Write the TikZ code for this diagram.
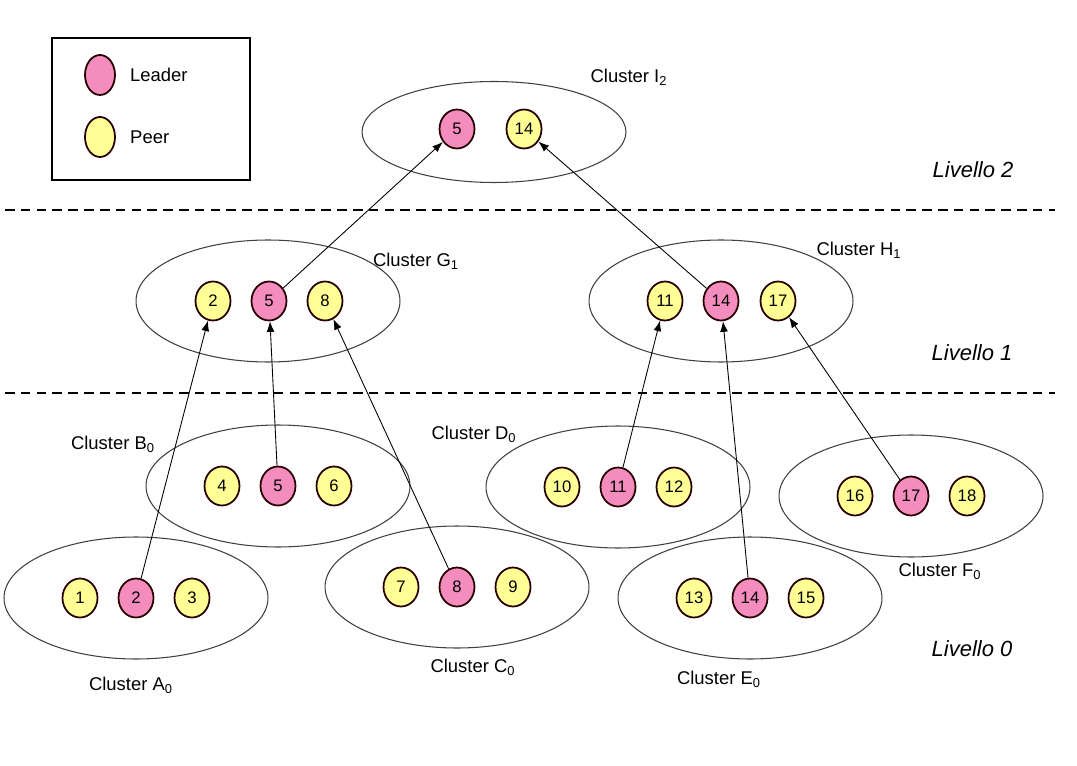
\documentclass[tikz,border=0pt]{standalone}
\usepackage{fontspec}
\setmainfont{Liberation Sans}
\usetikzlibrary{shapes.geometric, arrows.meta}

\definecolor{leadpink}{RGB}{245,140,190}
\definecolor{peeryellow}{RGB}{255,255,150}

\tikzset{
	member/.style={ellipse, draw=black!85!red, line width=1pt, minimum width=0.7cm, minimum height=0.78cm, inner sep=0pt, font=\fontsize{9.5}{11}\selectfont},
	leader/.style={member, fill=leadpink},
	peer/.style={member, fill=peeryellow},
	cluster/.style={ellipse, draw=black!75, line width=0.6pt, minimum width=5.28cm, minimum height=2.44cm},
	clabel/.style={font=\fontsize{10.5}{12}\selectfont},
	level/.style={font=\fontsize{12.5}{14}\selectfont\itshape},
	link/.style={-{Latex[length=6pt, width=4.5pt]}, line width=0.5pt}
}

\begin{document}
\begin{tikzpicture}[x=0.02cm, y=-0.02cm]
	\useasboundingbox (0,0) rectangle (1077,766);

	% legend
	\node[draw, line width=0.6pt, minimum width=3.96cm, minimum height=2.84cm] (legend) at (151,109) {};
	\node[leader, minimum width=0.6cm, minimum height=0.8cm] (kl) at (100,75) {};
	\node[peer, minimum width=0.6cm, minimum height=0.8cm] (kp) at (100,137) {};
	\node[clabel, anchor=west] (tl) at (124,75) {Leader};
	\node[clabel, anchor=west] (tp) at (124,137) {Peer};

	% levels
	\draw[dashed, dash pattern=on 5.5pt off 3.5pt, line width=0.6pt] (5,210) -- (1055,210);
	\draw[dashed, dash pattern=on 5.5pt off 3.5pt, line width=0.9pt] (5,393) -- (1055,393);
	\node[level] (lv2) at (973,170) {Livello 2};
	\node[level] (lv1) at (972,353) {Livello 1};
	\node[level] (lv0) at (972,649) {Livello 0};

	% level 2
	\node[cluster, minimum height=2.02cm] (I) at (494,132) {};
	\node[leader] (i5) at (457,129) {5};
	\node[peer] (i14) at (524,129) {14};

	% level 1
	\node[cluster] (G) at (268,301) {};
	\node[peer] (g2) at (213,301) {2};
	\node[leader] (g5) at (269,301) {5};
	\node[peer] (g8) at (325,301) {8};
	\node[cluster] (H) at (721,301) {};
	\node[peer] (h11) at (665,301) {11};
	\node[leader] (h14) at (721,301) {14};
	\node[peer] (h17) at (778,301) {17};

	% level 0
	\foreach \c/\x/\y/\n in {A/136/598/1, B/278/486/4, C/457/587/7, D/618/487/10, E/750/598/13, F/911/496/16} {
		\pgfmathtruncatemacro{\m}{\n+1}
		\pgfmathtruncatemacro{\k}{\n+2}
		\node[cluster] (\c) at (\x,\y) {};
		\node[peer] (n\n) at (\x-56,\y) {\n};
		\node[leader] (n\m) at (\x,\y) {\m};
		\node[peer] (n\k) at (\x+56,\y) {\k};
	}

	% cluster names
	\node[clabel] (lI) at (629,77) {Cluster I\textsubscript{2}};
	\node[clabel] (lG) at (416,261) {Cluster G\textsubscript{1}};
	\node[clabel] (lH) at (859,250) {Cluster H\textsubscript{1}};
	\node[clabel] (lA) at (131,685) {Cluster A\textsubscript{0}};
	\node[clabel] (lB) at (113,444) {Cluster B\textsubscript{0}};
	\node[clabel] (lC) at (473,667) {Cluster C\textsubscript{0}};
	\node[clabel] (lD) at (474,434) {Cluster D\textsubscript{0}};
	\node[clabel] (lE) at (719,679) {Cluster E\textsubscript{0}};
	\node[clabel] (lF) at (940,571) {Cluster F\textsubscript{0}};

	% leaders up one level
	\draw[link] (g5) -- (i5);
	\draw[link] (h14) -- (i14);
	\draw[link] (n2) -- (g2);
	\draw[link] (n5) -- (g5);
	\draw[link] (n8) -- (g8);
	\draw[link] (n11) -- (h11);
	\draw[link] (n14) -- (h14);
	\draw[link] (n17) -- (h17);
\end{tikzpicture}
\end{document}
